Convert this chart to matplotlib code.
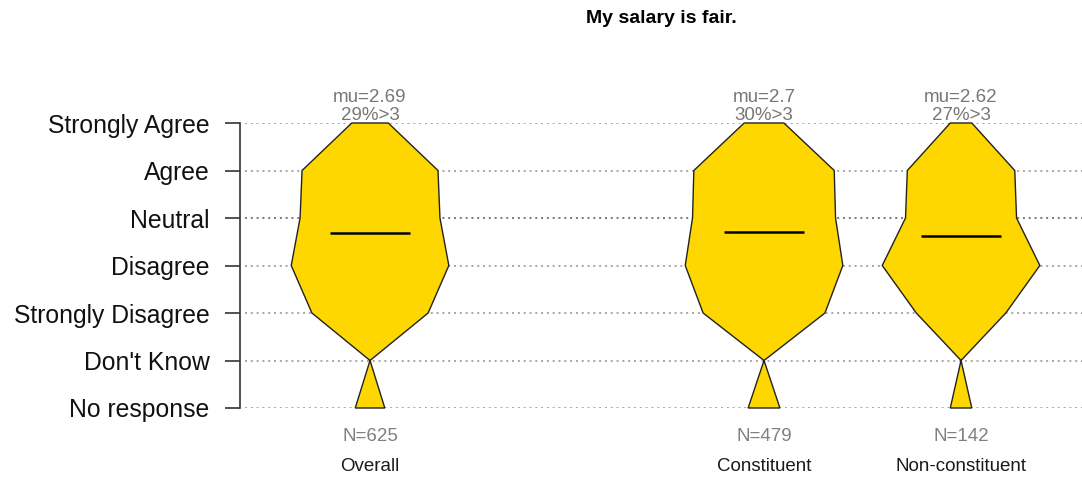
import matplotlib
matplotlib.use('Agg')
from matplotlib import pyplot as plt
from matplotlib.patches import Polygon

# Response levels, from bottom to top of the y axis.
levels = ['No response', "Don't Know", 'Strongly Disagree', 'Disagree', 'Neutral', 'Agree', 'Strongly Agree']
level_values = [-1, 0, 1, 2, 3, 4, 5]

# Groups and their x positions (slot 2 is left empty).
groups = ['Overall', 'Constituent', 'Non-constituent']
group_pos = [1, 3, 4]

# Answer counts per group, in the same order as the levels.
counts_overall = [30, 0, 118, 160, 142, 138, 37]
counts_constituent = [24, 0, 92, 119, 108, 106, 30]
counts_nonconstituent = [6, 0, 25, 44, 31, 30, 6]

# Summary labels shown above each shape.
mu_labels = ['2.69', '2.7', '2.62']
pct_labels = [29, 30, 27]

all_counts = [counts_overall, counts_constituent, counts_nonconstituent]

plt.rcParams['font.family'] = ['Liberation Sans', 'DejaVu Sans']

fig = plt.figure(figsize=(10.82, 4.79), dpi=100)
W, H = 1082, 479
ax = fig.add_axes([240 / W, 1 - 408 / H, 1 - 240 / W, (408 - 123) / H])
ax.set_xlim(0.34, 4.614)
ax.set_ylim(-1, 5)

# Dotted reference lines at each level.
for v in level_values:
    col = '#555555' if v == 3 else '#8f8f8f'
    ax.hlines(v, 0.365, 4.614, colors=col, linestyles=(0, (1.3, 2.5)), linewidth=1.1, zorder=1)

maxw = 0.40
for i, counts in enumerate(all_counts):
    x0 = group_pos[i]
    top = max(counts)
    half = [maxw * c / top for c in counts]

    # Right side going up, then left side going down.
    pts = [(x0 + h, y) for h, y in zip(half, level_values)]
    pts += [(x0 - h, y) for h, y in zip(half[::-1], level_values[::-1])]
    poly = Polygon(pts, closed=True, facecolor='#FFD700', edgecolor='#222222', linewidth=1.0, zorder=2, clip_on=False)
    ax.add_patch(poly)

    # Mean line.
    mu = float(mu_labels[i])
    ax.hlines(mu, x0 - 0.203, x0 + 0.203, colors='black', linewidth=1.8, zorder=3)

    # Text above and below.
    ax.annotate('mu=' + mu_labels[i], (x0, 5), xytext=(0, 21), textcoords='offset pixels',
                ha='center', va='baseline', fontsize=13.5, color='#777777', annotation_clip=False)
    ax.annotate('%d%%>3' % pct_labels[i], (x0, 5), xytext=(0, 3), textcoords='offset pixels',
                ha='center', va='baseline', fontsize=13.5, color='#777777', annotation_clip=False)
    ax.annotate('N=%d' % sum(counts), (x0, -1), xytext=(0, -33), textcoords='offset pixels',
                ha='center', va='baseline', fontsize=13.5, color='#808080', annotation_clip=False)
    ax.annotate(groups[i], (x0, -1), xytext=(0, -63), textcoords='offset pixels',
                ha='center', va='baseline', fontsize=13.5, color='#1a1a1a', annotation_clip=False)

# Axis styling.
for s in ['top', 'right', 'bottom']:
    ax.spines[s].set_visible(False)
ax.spines['left'].set_bounds(-1, 5)
ax.spines['left'].set_color('#333333')
ax.spines['left'].set_linewidth(1.2)
ax.set_xticks([])
ax.set_yticks(level_values)
ax.set_yticklabels(levels, fontsize=17.8, color='#111111')
ax.tick_params(axis='y', length=10.8, width=1.2, color='#333333', pad=11)

fig.text(661 / W, 1 - 22.7 / H, 'My salary is fair.', ha='center', va='baseline', fontsize=14, fontweight='bold')

fig.savefig('out.png', dpi=100)
